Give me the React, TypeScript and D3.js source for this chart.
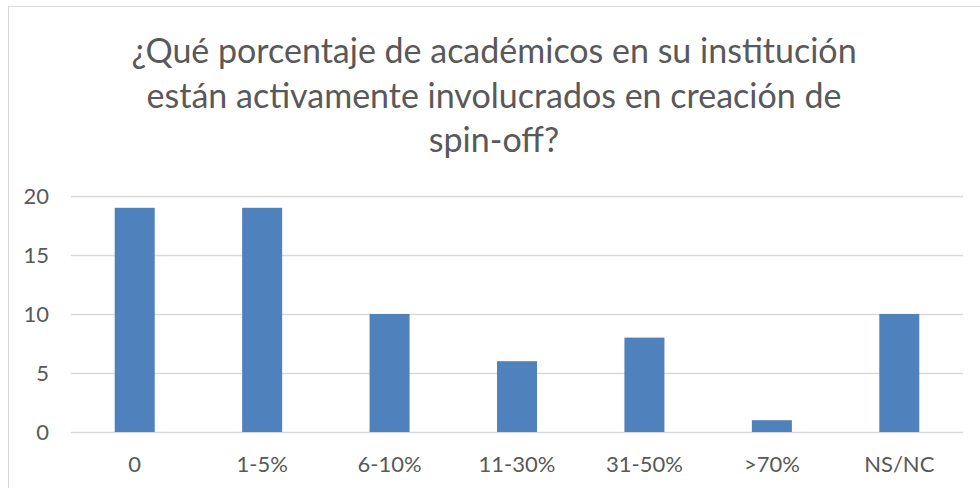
import React from "react";
import * as d3 from "d3";

const categories = ["0", "1-5%", "6-10%", "11-30%", "31-50%", ">70%", "NS/NC"];
const values = [19, 19, 10, 6, 8, 1, 10];
const yTicks = [0, 5, 10, 15, 20];
const titleLines = [
  "¿Qué porcentaje de académicos en su institución",
  "están activamente involucrados en creación de",
  "spin-off?",
];

export default function App() {
  const W = 980;
  const H = 488;
  const plot = { left: 71, right: 963, top: 196, bottom: 432 };
  const x = d3
    .scaleBand<string>()
    .domain(categories)
    .range([plot.left, plot.right])
    .paddingInner(0.686)
    .paddingOuter(0.343);
  const y = d3.scaleLinear().domain([0, 20]).range([plot.bottom, plot.top]);
  const font = "Lato, 'Open Sans', sans-serif";
  const textColor = "#595959";

  return (
    <svg
      width={W}
      height={H}
      style={{ position: "absolute", left: 0, top: 0, display: "block" }}
    >
      <rect x={0} y={0} width={W} height={H} fill="#ffffff" />
      <rect
        x={8.5}
        y={6.5}
        width={W + 10}
        height={H + 10}
        fill="#ffffff"
        stroke="#d9d9d9"
        strokeWidth={1}
      />
      {titleLines.map((t, i) => (
        <text
          key={i}
          x={494}
          y={63 + i * 44.5}
          textAnchor="middle"
          fontFamily={font}
          fontSize={34}
          fill={textColor}
        >
          {t}
        </text>
      ))}
      {yTicks.map((t) => (
        <g key={t}>
          <line
            x1={plot.left}
            x2={plot.right}
            y1={Math.round(y(t)) + 0.5}
            y2={Math.round(y(t)) + 0.5}
            stroke="#d9d9d9"
            strokeWidth={1.5}
          />
          <text
            x={49}
            y={y(t) + 7.5}
            textAnchor="end"
            fontFamily={font}
            fontSize={22}
            fill={textColor}
          >
            {t}
          </text>
        </g>
      ))}
      {categories.map((c, i) => (
        <rect
          key={c}
          x={x(c)}
          y={y(values[i])}
          width={x.bandwidth()}
          height={y(0) - y(values[i])}
          fill="#4f81bd"
        />
      ))}
      {categories.map((c) => (
        <text
          key={c}
          x={(x(c) ?? 0) + x.bandwidth() / 2}
          y={472}
          textAnchor="middle"
          fontFamily={font}
          fontSize={22}
          fill={textColor}
        >
          {c}
        </text>
      ))}
    </svg>
  );
}
